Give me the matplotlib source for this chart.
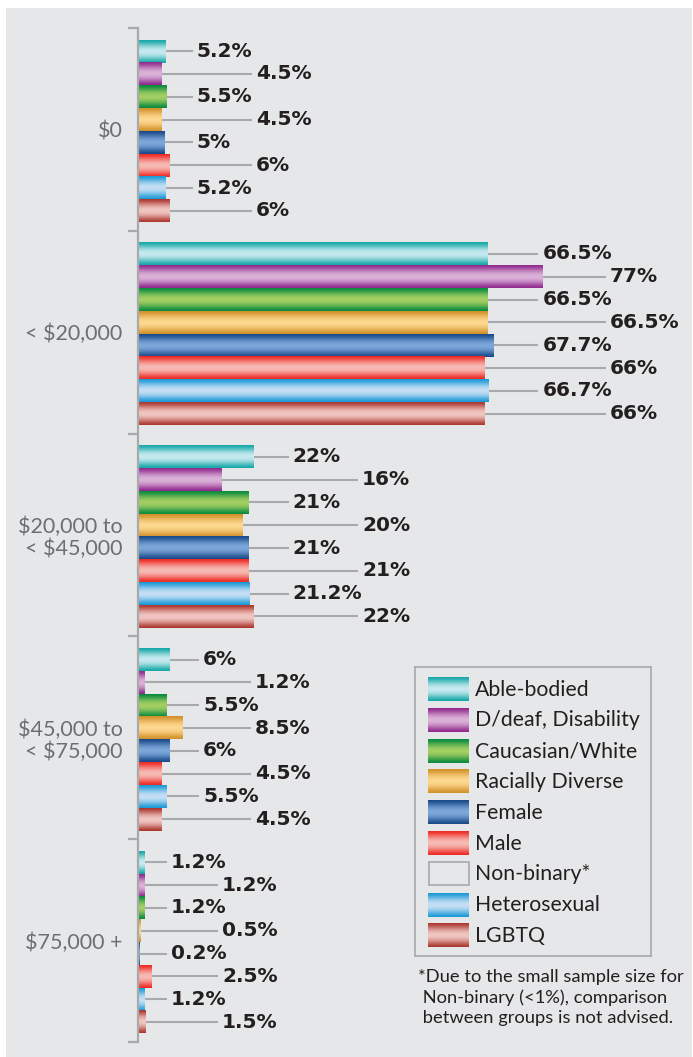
import numpy as np
import matplotlib
matplotlib.use("Agg")
import matplotlib.pyplot as plt
from matplotlib.colors import to_rgb
from matplotlib.patches import Rectangle

# income brackets and respondent groups
groups = ["$0", "< $20,000", "$20,000 to\n< $45,000", "$45,000 to\n< $75,000", "$75,000 +"]
series = ["Able-bodied", "D/deaf, Disability", "Caucasian/White", "Racially Diverse",
          "Female", "Male", "Heterosexual", "LGBTQ"]
legend_names = ["Able-bodied", "D/deaf, Disability", "Caucasian/White", "Racially Diverse",
                "Female", "Male", "Non-binary*", "Heterosexual", "LGBTQ"]

able_bodied = [5.2, 66.5, 22, 6, 1.2]
disability = [4.5, 77, 16, 1.2, 1.2]
caucasian = [5.5, 66.5, 21, 5.5, 1.2]
racially_diverse = [4.5, 66.5, 20, 8.5, 0.5]
female = [5, 67.7, 21, 6, 0.2]
male = [6, 66, 21, 4.5, 2.5]
heterosexual = [5.2, 66.7, 21.2, 5.5, 1.2]
lgbtq = [6, 66, 22, 4.5, 1.5]
values = [able_bodied, disability, caucasian, racially_diverse, female, male, heterosexual, lgbtq]

footnote = "*Due to the small sample size for\n Non-binary (<1%), comparison\n between groups is not advised."

# (edge colour, highlight colour) for the tube-like shading
shades = {
    "Able-bodied": ("#16a8a8", "#c6eaef"),
    "D/deaf, Disability": ("#912a8e", "#dcb2d9"),
    "Caucasian/White": ("#0a8b3e", "#a3cf63"),
    "Racially Diverse": ("#d3922b", "#fdd88e"),
    "Female": ("#1a4a8b", "#7ca7da"),
    "Male": ("#ee2b25", "#f8bab4"),
    "Heterosexual": ("#1b99d6", "#c4dff5"),
    "LGBTQ": ("#ab3831", "#f1c6c2"),
}

# where the value labels sit in each bracket (short / long leader), in %
label_cols = [(11.2, 22.5), (77.0, 89.9), (29.5, 42.7), (12.4, 22.3), (6.3, 16.0)]

W, H = 693, 1057
GRAY = "#a7a9ac"
TXT = "#231f20"
plt.rcParams["font.family"] = ["Lato", "DejaVu Sans"]


def shade(edge, mid, n=64):
    t = np.linspace(0, 1, n)
    w = np.sin(np.pi * t) ** 1.4
    e, m = np.array(to_rgb(edge)), np.array(to_rgb(mid))
    col = e[None, :] * (1 - w[:, None]) + m[None, :] * w[:, None]
    return col[:, None, :]


fig = plt.figure(figsize=(W / 100, H / 100), dpi=100)
fig.patches.append(Rectangle((6 / W, 0), 1 - 7 / W, 1 - 8 / H, transform=fig.transFigure,
                             facecolor="#e6e7e8", edgecolor="none", zorder=-5))

x0_px, top_px, bot_px = 138, 28, 1042
ppu = 5.25
ax = fig.add_axes([x0_px / W, (H - bot_px) / H, (W - x0_px) / W, (bot_px - top_px) / H])
ax.set_facecolor("none")

bar_h = 0.1125
start = 0.058
gap = 4 / ppu
for j, name in enumerate(series):
    ys = np.arange(len(groups)) + start + bar_h * (j + 0.5)
    bars = ax.barh(ys, values[j], height=bar_h, facecolor="none", edgecolor="none")
    img = shade(*shades[name])
    for g, b in enumerate(bars):
        x, y, w, h = b.get_x(), b.get_y(), b.get_width(), b.get_height()
        ax.imshow(img, extent=[x, x + w, y + h, y], aspect="auto", zorder=2,
                  interpolation="bilinear")
        lx = label_cols[g][j % 2]
        yc = y + h / 2
        ax.plot([x + w, lx - gap], [yc, yc], color=GRAY, lw=1.5, zorder=1,
                solid_capstyle="butt")
        ax.text(lx, yc, f"{values[j][g]:g}%", ha="left", va="center", fontsize=14.5,
                fontweight="bold", family="DejaVu Sans", color=TXT, clip_on=False)

ax.set_xlim(0, (W - x0_px) / ppu)
ax.set_ylim(len(groups), 0)

for s in ["top", "right", "bottom"]:
    ax.spines[s].set_visible(False)
ax.spines["left"].set_color(GRAY)
ax.spines["left"].set_linewidth(1.6)
ax.set_xticks([])
ax.set_yticks(np.arange(len(groups) + 1))
ax.set_yticklabels([])
ax.tick_params(axis="y", which="major", length=7, width=1.6, color=GRAY, direction="out")
ax.set_yticks(np.arange(len(groups)) + 0.5, minor=True)
ax.set_yticklabels(groups, minor=True, fontsize=15.5, color="#6d6e71", linespacing=1.1)
ax.tick_params(axis="y", which="minor", length=0, pad=11)

# legend box drawn in pixel units
lg = fig.add_axes([415 / W, (H - 956) / H, 236 / W, 289 / H])
lg.set_facecolor("none")
lg.set_xticks([])
lg.set_yticks([])
for s in lg.spines.values():
    s.set_color(GRAY)
    s.set_linewidth(1.2)
for i, name in enumerate(legend_names):
    y0 = 10 + i * 30.8
    if name in shades:
        lg.imshow(shade(*shades[name]), extent=[13, 54, y0 + 24, y0], aspect="auto",
                  interpolation="bilinear")
    else:
        lg.add_patch(Rectangle((13.5, y0 + 0.5), 40, 23, facecolor="none",
                               edgecolor=GRAY, lw=1.2))
    lg.text(60, y0 + 12.5, name, ha="left", va="center", fontsize=15.3, color=TXT)
lg.set_xlim(0, 236)
lg.set_ylim(289, 0)

fig.text(418 / W, 1 - 969 / H, footnote, ha="left", va="top", fontsize=13.2,
         color=TXT, linespacing=1.3)

fig.savefig("out.png", dpi=100, facecolor="white")
